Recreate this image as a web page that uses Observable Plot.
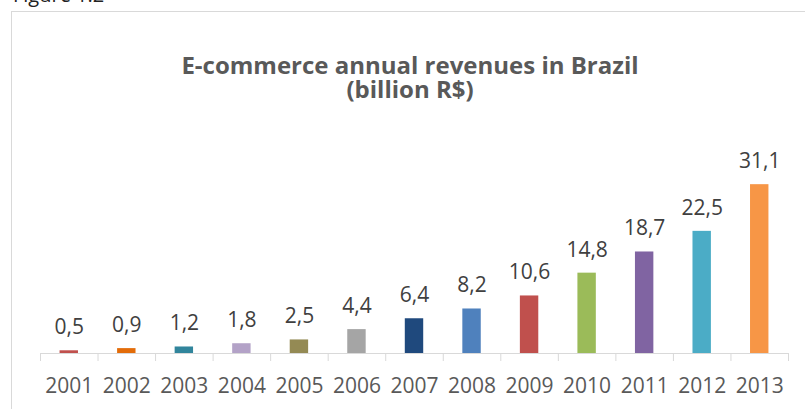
<!DOCTYPE html>
<html>
<head>
<meta charset="utf-8">
<script src="https://cdn.jsdelivr.net/npm/d3@7"></script>
<script src="https://cdn.jsdelivr.net/npm/@observablehq/plot@0.6"></script>
<style>
  html, body { margin: 0; padding: 0; background: #fff; overflow: hidden; width: 805px; height: 409px; }
  body { position: relative; font-family: "Open Sans", sans-serif; }
  #fig { position: absolute; left: 13px; top: -15px; font-size: 20px; line-height: 20px; color: #222; }
  #box { position: absolute; left: 11px; top: 11px; width: 820px; height: 520px; border: 1px solid #d9d9d9; box-sizing: border-box; }
  .title { position: absolute; left: 0; width: 820px; text-align: center; font-size: 24px; line-height: 24px; height: 24px; font-weight: bold; color: #595959; white-space: nowrap; }
  #t1 { top: 52.5px; }
  #t2 { top: 76.5px; }
  #chart { position: absolute; left: 0; top: 0; }
</style>
</head>
<body>
<div id="fig">Figure 1.2</div>
<div id="box"></div>
<div class="title" id="t1">E-commerce annual revenues in Brazil</div>
<div class="title" id="t2">(billion R$)</div>
<div id="chart"></div>
<script>
const years = [2001, 2002, 2003, 2004, 2005, 2006, 2007, 2008, 2009, 2010, 2011, 2012, 2013];
const revenues = [0.5, 0.9, 1.2, 1.8, 2.5, 4.4, 6.4, 8.2, 10.6, 14.8, 18.7, 22.5, 31.1];
const colors = ["#C0504D", "#E36C09", "#31859C", "#B3A2C7", "#948A54", "#A5A5A5", "#1F497D",
                "#4F81BD", "#C0504D", "#9BBB59", "#8064A2", "#4BACC6", "#F79646"];

const data = years.map((y, i) => ({year: y, value: revenues[i], color: colors[i]}));
const boundaries = [years[0] - 0.5, ...years.map(y => y + 0.5)];
const half = 0.16;
const fmt = v => v.toFixed(1).replace(".", ",");

const plot = Plot.plot({
  width: 805,
  height: 409,
  marginLeft: 40,
  marginRight: 17,
  marginTop: 163,
  marginBottom: 56,
  style: {fontFamily: "Open Sans, sans-serif", background: "transparent", overflow: "visible"},
  x: {type: "linear", domain: [years[0] - 0.5, years[years.length - 1] + 0.5], label: null},
  y: {domain: [0, 35], axis: null},
  marks: [
    Plot.rectY(data, {x1: d => d.year - half, x2: d => d.year + half, y1: 0, y2: "value", fill: "color"}),
    Plot.ruleY([0], {stroke: "#d9d9d9", strokeWidth: 1}),
    Plot.axisX({ticks: boundaries, tickSize: 8, tickFormat: () => "", stroke: "#d9d9d9", strokeWidth: 1, label: null}),
    Plot.axisX({ticks: years, tickSize: 0, tickPadding: 25, tickFormat: d => String(d), fontSize: 21, fill: "#595959", label: null}),
    Plot.text(data, {x: "year", y: "value", text: d => fmt(d.value), lineAnchor: "bottom", dy: -16.5, fontSize: 21, fill: "#404040"})
  ]
});
document.getElementById("chart").appendChild(plot);
</script>
</body>
</html>
